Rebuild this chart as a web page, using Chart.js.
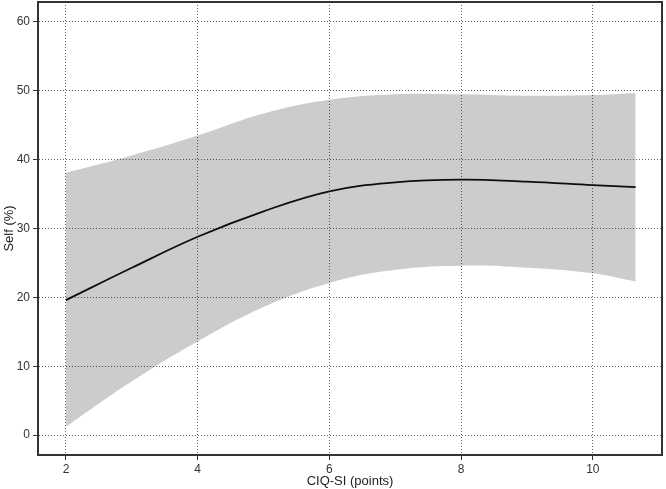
<!DOCTYPE html>
<html>
<head>
<meta charset="utf-8">
<script src="https://cdn.jsdelivr.net/npm/chart.js@4/dist/chart.umd.min.js"></script>
<style>
  html, body { margin: 0; padding: 0; background: #fff; }
  #wrap { width: 666px; height: 489px; }
</style>
</head>
<body>
<div id="wrap"><canvas id="c" width="666" height="489"></canvas></div>
<script>
// CIQ-SI (points)
const xValues = [2, 3, 4, 5, 6, 7, 8, 9, 10, 10.65];
// fitted Self (%)
const meanValues = [19.6, 24.3, 28.8, 32.5, 35.4, 36.7, 37.1, 36.8, 36.3, 36.0];
// confidence band
const upperValues = [38.1, 40.6, 43.5, 46.7, 48.7, 49.5, 49.5, 49.3, 49.4, 49.7];
const lowerValues = [1.2, 7.8, 13.6, 18.6, 22.1, 24.0, 24.6, 24.3, 23.5, 22.3];
const xTicks = [2, 4, 6, 8, 10];
const yTicks = [0, 10, 20, 30, 40, 50, 60];

const toPts = (ys) => xValues.map((x, i) => ({ x: x, y: ys[i] }));

const framePlugin = {
  id: 'frame',
  afterDraw(chart) {
    const { ctx, chartArea: a } = chart;
    ctx.save();
    ctx.strokeStyle = '#333';
    ctx.lineWidth = 2;
    ctx.strokeRect(a.left, a.top, a.right - a.left, a.bottom - a.top);
    ctx.restore();
  }
};

const font = { family: '"Liberation Sans", Arial, sans-serif', size: 12 };

new Chart(document.getElementById('c'), {
  type: 'line',
  data: {
    datasets: [
      {
        label: 'upper',
        data: toPts(upperValues),
        borderWidth: 0,
        pointRadius: 0,
        backgroundColor: 'rgba(0,0,0,0.2)',
        fill: '+1',
        tension: 0.4
      },
      {
        label: 'lower',
        data: toPts(lowerValues),
        borderWidth: 0,
        pointRadius: 0,
        fill: false,
        tension: 0.4
      },
      {
        label: 'fit',
        data: toPts(meanValues),
        borderColor: '#111',
        borderWidth: 1.8,
        pointRadius: 0,
        fill: false,
        tension: 0.4
      }
    ]
  },
  options: {
    responsive: false,
    animation: false,
    layout: { padding: { left: 0, right: 4, top: 2, bottom: 0 } },
    plugins: { legend: { display: false }, tooltip: { enabled: false } },
    scales: {
      x: {
        type: 'linear',
        min: 1.575,
        max: 11.05,
        afterBuildTicks: (s) => { s.ticks = xTicks.map(v => ({ value: v })); },
        afterFit: (s) => { s.height = 34; s.paddingLeft = 0; s.paddingRight = 0; },
        ticks: { color: '#333', font: font, padding: 2 },
        grid: { color: '#666', lineWidth: 1, tickLength: 5, tickColor: '#333' },
        border: { display: true, color: '#333', width: 2, dash: [1, 2] },
        title: { display: true, text: 'CIQ-SI (points)', color: '#222', font: { family: font.family, size: 13 }, padding: { top: 0, bottom: 0 } }
      },
      y: {
        type: 'linear',
        min: -2.9,
        max: 62.9,
        afterBuildTicks: (s) => { s.ticks = yTicks.map(v => ({ value: v })); },
        afterFit: (s) => { s.width = 38; s.paddingTop = 0; s.paddingBottom = 0; },
        ticks: { color: '#333', font: font, padding: 3 },
        grid: { color: '#666', lineWidth: 1, tickLength: 5, tickColor: '#333' },
        border: { display: true, color: '#333', width: 2, dash: [1, 2] },
        title: { display: true, text: 'Self (%)', color: '#222', font: { family: font.family, size: 13 }, padding: { top: 2, bottom: 0 } }
      }
    }
  },
  plugins: [framePlugin]
});
</script>
</body>
</html>
